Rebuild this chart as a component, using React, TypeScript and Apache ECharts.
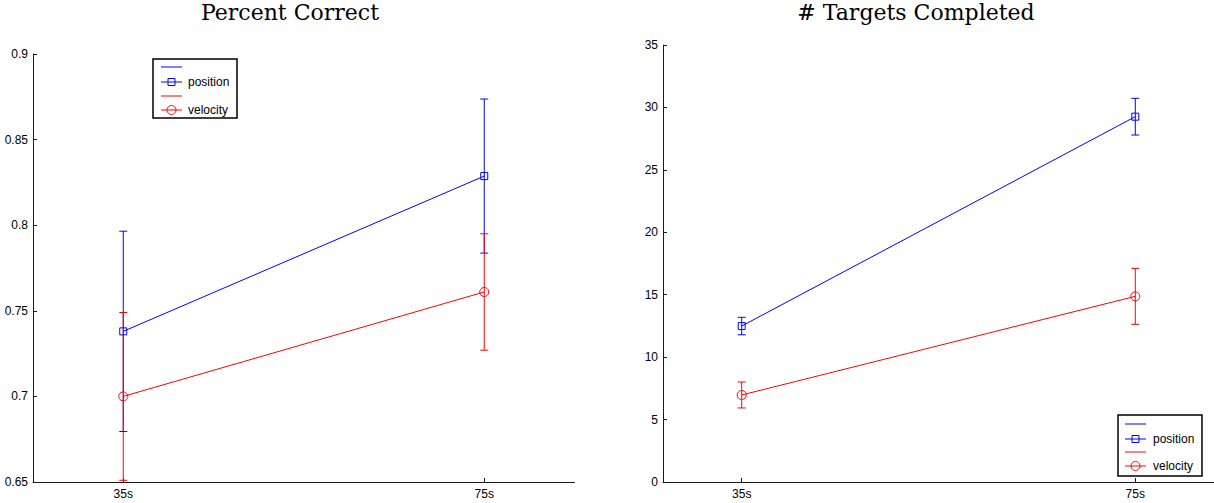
import React, { useEffect, useRef } from "react";
import * as echarts from "echarts";

const categories = ["35s", "75s"];
const xPositions = [1, 2];

const pcPosition = [0.738, 0.8287];
const pcPositionErr = [0.0585, 0.045];
const pcVelocity = [0.7, 0.761];
const pcVelocityErr = [0.049, 0.034];

const tcPosition = [12.49, 29.26];
const tcPositionErr = [0.7, 1.47];
const tcVelocity = [6.97, 14.87];
const tcVelocityErr = [1.04, 2.24];

const pcTicks = [0.65, 0.7, 0.75, 0.8, 0.85, 0.9];
const tcTicks = [0, 5, 10, 15, 20, 25, 30, 35];

const legendNames = ["position", "velocity"];
const titles = ["Percent Correct", "# Targets Completed"];

const BLUE = "#0000ff";
const RED = "#ff0000";
const AXIS = "#1a1a1a";
const SANS = "Liberation Sans, Arial, sans-serif";
const SERIF = "DejaVu Serif, serif";

function pts(vals: number[]) {
  return vals.map((v, i) => [xPositions[i], v]);
}
function errs(vals: number[], e: number[]) {
  return vals.map((v, i) => [xPositions[i], v - e[i], v + e[i]]);
}

function errRender(color: string) {
  return (params: any, api: any) => {
    const x = api.value(0);
    const lo = api.coord([x, api.value(1)]);
    const hi = api.coord([x, api.value(2)]);
    const cap = 4;
    const style = { stroke: color, lineWidth: 1 };
    return {
      type: "group",
      children: [
        { type: "line", shape: { x1: lo[0], y1: lo[1], x2: hi[0], y2: hi[1] }, style },
        { type: "line", shape: { x1: lo[0] - cap, y1: lo[1], x2: lo[0] + cap, y2: lo[1] }, style },
        { type: "line", shape: { x1: hi[0] - cap, y1: hi[1], x2: hi[0] + cap, y2: hi[1] }, style },
      ],
    };
  };
}

function legendGraphic(left: number, top: number, w: number, h: number, rows: number[], lineX: number, textX: number) {
  const children: any[] = [
    { type: "rect", shape: { x: left, y: top, width: w, height: h }, style: { fill: "#fff", stroke: "#000", lineWidth: 1.5 } },
  ];
  const colors = [BLUE, BLUE, RED, RED];
  rows.forEach((y, i) => {
    children.push({
      type: "line",
      shape: { x1: lineX, y1: y, x2: lineX + 21, y2: y },
      style: { stroke: colors[i], lineWidth: 1 },
    });
  });
  const mx = lineX + 10.5;
  children.push({
    type: "rect",
    shape: { x: mx - 3.5, y: rows[1] - 3.5, width: 7, height: 7 },
    style: { fill: "none", stroke: BLUE, lineWidth: 1 },
  });
  children.push({
    type: "circle",
    shape: { cx: mx, cy: rows[3], r: 4.5 },
    style: { fill: "none", stroke: RED, lineWidth: 1 },
  });
  children.push({
    type: "text",
    x: textX,
    y: rows[1],
    style: { text: legendNames[0], fill: "#000", font: `12px ${SANS}`, verticalAlign: "middle", align: "left" },
  });
  children.push({
    type: "text",
    x: textX,
    y: rows[3],
    style: { text: legendNames[1], fill: "#000", font: `12px ${SANS}`, verticalAlign: "middle", align: "left" },
  });
  return { type: "group", z: 100, children };
}

export default function App() {
  const ref = useRef<HTMLDivElement>(null);
  useEffect(() => {
    if (!ref.current) return;
    const chart = echarts.init(ref.current, undefined, { renderer: "svg" });

    const axisCommon = {
      axisLine: { show: true, lineStyle: { color: AXIS, width: 1 } },
      axisTick: { show: true, inside: true, length: 4, lineStyle: { color: AXIS } },
      splitLine: { show: false },
      axisLabel: { color: "#000", fontSize: 12, fontFamily: SANS },
    };

    const xAxisFor = (gridIndex: number, min: number, max: number) => ({
      type: "value",
      gridIndex,
      min,
      max,
      ...axisCommon,
      axisTick: { ...axisCommon.axisTick, customValues: xPositions },
      axisLabel: {
        ...axisCommon.axisLabel,
        margin: 6,
        customValues: xPositions,
        formatter: (v: number) => categories[Math.round(v) - 1] ?? "",
      },
    });

    const yAxisFor = (gridIndex: number, ticks: number[]) => ({
      type: "value",
      gridIndex,
      min: ticks[0],
      max: ticks[ticks.length - 1],
      ...axisCommon,
      axisTick: { ...axisCommon.axisTick, customValues: ticks },
      axisLabel: {
        ...axisCommon.axisLabel,
        margin: 5,
        customValues: ticks,
        formatter: (v: number) => String(+v.toFixed(2)),
      },
    });

    const lineSeries = (name: string, data: number[][], idx: number, color: string, symbol: string, size: number) => ({
      type: "line",
      name,
      xAxisIndex: idx,
      yAxisIndex: idx,
      data,
      symbol,
      symbolSize: size,
      showSymbol: true,
      lineStyle: { color, width: 1 },
      itemStyle: { color: "transparent", borderColor: color, borderWidth: 1 },
      z: 3,
    });

    const errSeries = (data: number[][], idx: number, color: string, z: number) => ({
      type: "custom",
      xAxisIndex: idx,
      yAxisIndex: idx,
      data,
      encode: { x: 0, y: [1, 2] },
      renderItem: errRender(color),
      clip: true,
      z,
    });

    chart.setOption({
      animation: false,
      backgroundColor: "#fff",
      grid: [
        { left: 33, top: 54, width: 541.5, height: 428 },
        { left: 663, top: 45, width: 553, height: 437 },
      ],
      xAxis: [xAxisFor(0, 0.75, 2.25), xAxisFor(1, 0.8, 2.2)],
      yAxis: [yAxisFor(0, pcTicks), yAxisFor(1, tcTicks)],
      series: [
        errSeries(errs(pcPosition, pcPositionErr), 0, BLUE, 2),
        lineSeries("position", pts(pcPosition), 0, BLUE, "rect", 7),
        errSeries(errs(pcVelocity, pcVelocityErr), 0, RED, 2),
        lineSeries("velocity", pts(pcVelocity), 0, RED, "circle", 9),
        errSeries(errs(tcPosition, tcPositionErr), 1, BLUE, 2),
        lineSeries("position", pts(tcPosition), 1, BLUE, "rect", 7),
        errSeries(errs(tcVelocity, tcVelocityErr), 1, RED, 2),
        lineSeries("velocity", pts(tcVelocity), 1, RED, "circle", 9),
      ],
      graphic: [
        {
          type: "text",
          x: 290,
          y: 12.5,
          z: 100,
          style: { text: titles[0], fill: "#000", font: `22px ${SERIF}`, align: "center", verticalAlign: "middle" },
        },
        {
          type: "text",
          x: 916,
          y: 12.5,
          z: 100,
          style: { text: titles[1], fill: "#000", font: `22px ${SERIF}`, align: "center", verticalAlign: "middle" },
        },
        legendGraphic(153, 59, 84, 59, [67, 82, 96, 110], 161, 188),
        legendGraphic(1118, 415, 84, 61, [424, 439, 452, 466], 1125, 1153),
      ],
    });
    return () => chart.dispose();
  }, []);
  return (
    <div
      ref={ref}
      style={{ position: "fixed", left: 0, top: 0, width: 1214, height: 503, background: "#fff" }}
    />
  );
}
